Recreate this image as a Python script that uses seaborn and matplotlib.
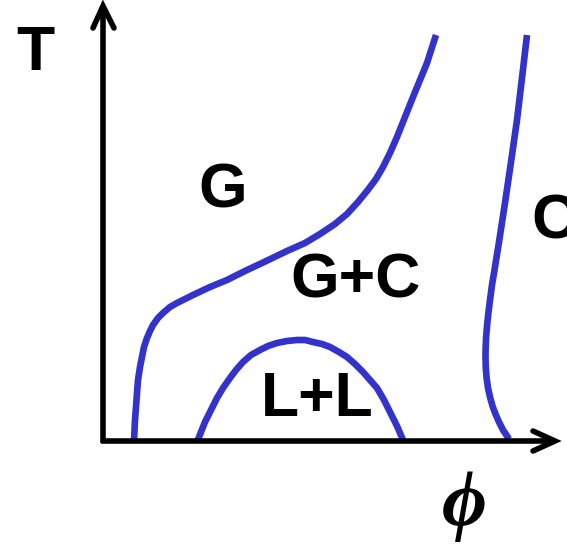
import matplotlib
matplotlib.use("Agg")
import matplotlib.pyplot as plt
import seaborn as sns
import pandas as pd

sns.set_theme(style="white")

# Phase boundaries in the (phi, T) sketch plane, screen-like coordinates
gas_x = [134, 135, 136, 137, 138, 140, 142, 144, 147, 150, 153, 158, 163, 170, 177, 185, 193, 210,
         227, 245, 262, 287, 305, 320, 335, 347, 358, 367, 376, 383, 390, 397, 405, 413, 420, 427, 436]
gas_y = [441, 420, 407, 393, 380, 367, 357, 347, 338, 331, 325, 318, 313, 307, 303, 299, 295, 287,
         280, 271, 263, 251, 243, 234, 224, 214, 202, 191, 179, 167, 153, 137, 117, 97, 80, 63, 35]

ll_x = [197, 201, 205, 211, 217, 223, 230, 236, 243, 251, 260, 268, 277, 287, 297, 305, 313, 322,
        330, 339, 347, 355, 363, 370, 377, 384, 390, 397, 403]
ll_y = [442, 432, 422, 410, 398, 388, 378, 370, 362, 355, 350, 346, 343, 341, 340, 340, 342, 344,
        347, 352, 357, 364, 372, 380, 388, 400, 412, 426, 440]

cry_x = [527, 522, 517, 511, 505, 499, 494.5, 492, 490, 488.5, 487.2, 486.2, 485.6, 485.5, 485.8,
         486.6, 488, 490, 492.5, 495.5, 499, 503, 507, 509]
cry_y = [35, 78, 120, 162, 203, 242, 270, 285, 300, 312, 324, 336, 348, 358, 368,
         378, 388, 397, 406, 414, 422, 430, 436, 439]

labels = ["G", "G+C", "L+L", "C"]
label_x = [223, 356, 317, 531]
label_y = [191, 281, 400, 222]

df = pd.concat([
    pd.DataFrame({"x": gas_x, "y": gas_y, "curve": "gas"}),
    pd.DataFrame({"x": ll_x, "y": ll_y, "curve": "ll"}),
    pd.DataFrame({"x": cry_x, "y": cry_y, "curve": "crystal"}),
])

fig = plt.figure(figsize=(5.67, 5.44), dpi=100)
ax = fig.add_axes([0, 0, 1, 1])
ax.set_xlim(0, 567)
ax.set_ylim(544, 0)
ax.axis("off")

blue = "#3333cc"
for name, sub in df.groupby("curve", sort=False):
    sns.lineplot(data=sub, x="x", y="y", sort=False, estimator=None, ax=ax,
                 color=blue, linewidth=4.8, solid_capstyle="butt",
                 solid_joinstyle="round", legend=False)

# Axes with open arrowheads
axis_kw = dict(color="black", linewidth=4.0, solid_capstyle="butt", solid_joinstyle="round")
ax.plot([103, 103], [443, 7], **axis_kw)
ax.plot([101, 553], [441, 441], **axis_kw)
head_kw = dict(color="black", linewidth=4.0, solid_capstyle="round", solid_joinstyle="miter")
ax.plot([93, 103, 114], [28, 6, 28], **head_kw)
ax.plot([533, 555, 533], [431, 441, 451], **head_kw)

ax.text(35, 53, "T", fontsize=45, fontweight="bold", family="Liberation Sans",
        ha="center", va="center", color="black")
ax.text(464, 507, "ϕ", fontsize=56, style="italic", fontweight="bold",
        family=["Liberation Serif", "DejaVu Serif"], ha="center", va="center", color="black")

for lab, lx, ly in zip(labels, label_x, label_y):
    ha = "left" if lab == "C" else "center"
    ax.text(lx, ly, lab, fontsize=45, fontweight="bold", family="Liberation Sans",
            ha=ha, va="center", color="black")

fig.savefig("out.png", dpi=100)
